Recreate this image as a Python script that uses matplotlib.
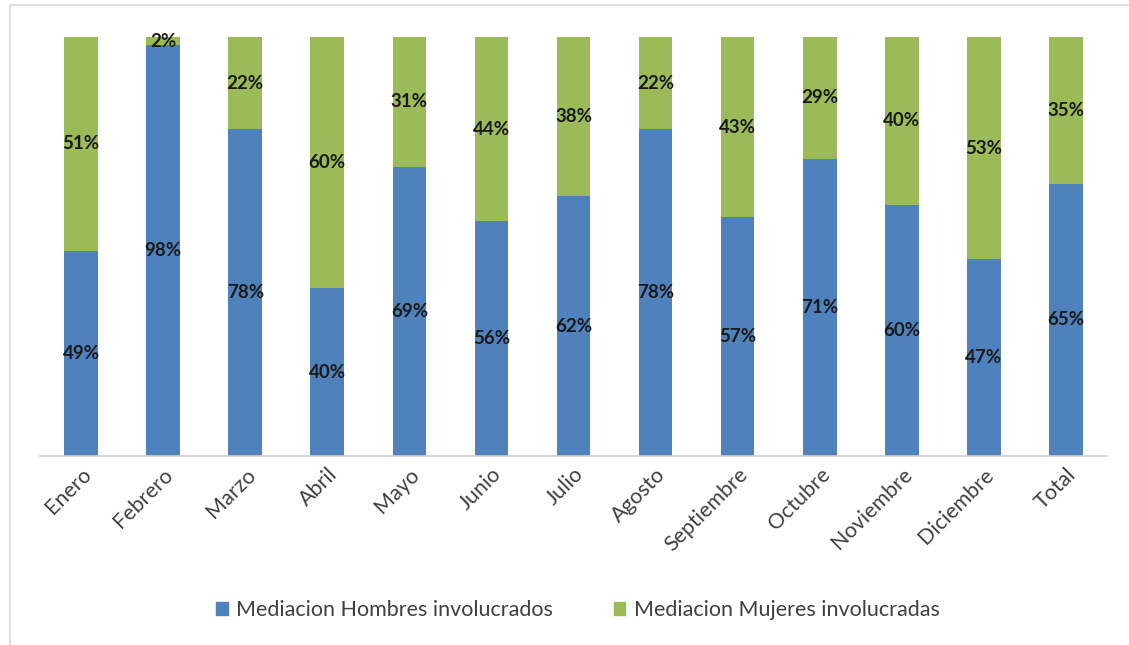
import matplotlib
matplotlib.use("Agg")
import matplotlib.pyplot as plt
from matplotlib.patches import Rectangle, Patch

plt.rcParams["font.family"] = ["Lato", "DejaVu Sans"]

meses = ["Enero", "Febrero", "Marzo", "Abril", "Mayo", "Junio", "Julio",
         "Agosto", "Septiembre", "Octubre", "Noviembre", "Diciembre", "Total"]
hombres = [49, 98, 78, 40, 69, 56, 62, 78, 57, 71, 60, 47, 65]
mujeres = [51, 2, 22, 60, 31, 44, 38, 22, 43, 29, 40, 53, 35]

BLUE = "#4F81BD"
GREEN = "#9BBB59"

fig = plt.figure(figsize=(11.29, 6.45), dpi=100)
ax = fig.add_axes([40 / 1129, 1 - 456 / 645, 1067 / 1129, 419 / 645])

x = range(len(meses))
width = 0.41
total = [h + m for h, m in zip(hombres, mujeres)]
h_frac = [h / t for h, t in zip(hombres, total)]
m_frac = [m / t for m, t in zip(mujeres, total)]

ax.bar(x, h_frac, width, color=BLUE, label="Mediacion Hombres involucrados")
ax.bar(x, m_frac, width, bottom=h_frac, color=GREEN, label="Mediacion Mujeres involucradas")

for i in x:
    ax.text(i, h_frac[i] / 2, f"{hombres[i]}%", ha="center", va="center",
            fontsize=13.5, fontweight="bold", color="#1a1a1a")
    ax.text(i, h_frac[i] + m_frac[i] / 2, f"{mujeres[i]}%", ha="center", va="center",
            fontsize=13.5, fontweight="bold", color="#1a1a1a")

ax.set_xlim(-0.5, len(meses) - 0.5)
ax.set_ylim(0, 1)
ax.set_yticks([])
ax.set_xticks(list(x))
ax.set_xticklabels(meses, rotation=45, ha="right", rotation_mode="anchor",
                   fontsize=15.5, color="#404040")
ax.tick_params(axis="x", length=0, pad=6)
for side in ["top", "right", "left"]:
    ax.spines[side].set_visible(False)
ax.spines["bottom"].set_color("#D0D0D0")
ax.spines["bottom"].set_linewidth(1.2)

handles = [Patch(color=BLUE, label="Mediacion Hombres involucrados"),
           Patch(color=GREEN, label="Mediacion Mujeres involucradas")]
fig.legend(handles=handles, loc="center", bbox_to_anchor=(578 / 1129, 1 - 610 / 645),
           ncol=2, frameon=False, fontsize=15.5, handlelength=0.55, handleheight=0.55,
           handletextpad=0.4, columnspacing=2.8, labelcolor="#404040")

# light frame around the chart area
fig.patches.append(Rectangle((10 / 1129, -0.05), 1.2, 1 - 5 / 645 + 0.05,
                             transform=fig.transFigure, fill=False,
                             edgecolor="#D9D9D9", linewidth=1.2))

fig.savefig("out.png", dpi=100)
plt.close()
